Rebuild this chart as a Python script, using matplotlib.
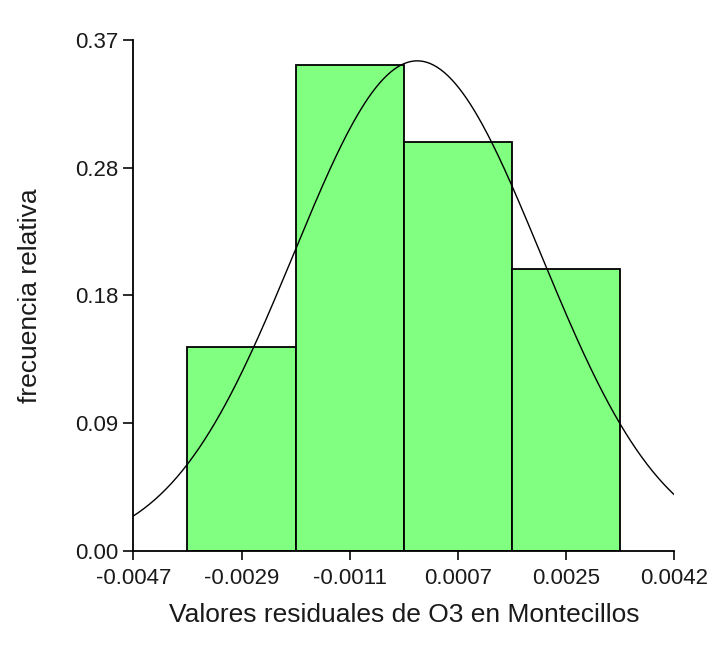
import numpy as np
import matplotlib
matplotlib.use("Agg")
import matplotlib.pyplot as plt

plt.rcParams['font.family'] = ['Liberation Sans', 'DejaVu Sans']

# bin centres (rounded tick labels) and relative frequencies
x_start = -0.00467
bin_width = 0.00178
x_ticklabels = ['-0.0047', '-0.0029', '-0.0011', '0.0007', '0.0025', '0.0042']
rel_freq = [0.148, 0.352, 0.296, 0.204]
y_max = 0.37
y_ticklabels = ['0.00', '0.09', '0.18', '0.28', '0.37']

# fitted normal curve
mu = 0.0
sigma = 0.00203
curve_peak = 0.355

x_ticks = x_start + bin_width * np.arange(len(x_ticklabels))
centers = x_ticks[1:1 + len(rel_freq)]

fig = plt.figure(figsize=(7.11, 6.58), dpi=100)
ax = fig.add_axes([0.1875, 0.163, 0.761, 0.776])

ax.bar(centers, rel_freq, width=bin_width, color='#80ff80',
       edgecolor='black', linewidth=1.3)

xs = np.linspace(x_ticks[0], x_ticks[-1], 300)
curve = curve_peak * np.exp(-(xs - mu) ** 2 / (2 * sigma ** 2))
ax.plot(xs, curve, color='black', linewidth=1.0)

ax.set_xlim(x_ticks[0], x_ticks[-1])
ax.set_ylim(0, y_max)
ax.set_xticks(x_ticks)
ax.set_xticklabels(x_ticklabels)
ax.set_yticks(np.linspace(0, y_max, len(y_ticklabels)))
ax.set_yticklabels(y_ticklabels)

for s in ['top', 'right']:
    ax.spines[s].set_visible(False)
for s in ['left', 'bottom']:
    ax.spines[s].set_linewidth(1.3)
ax.tick_params(axis='x', direction='out', length=6.5, width=1.3, labelsize=16, pad=5.8, colors='#1a1a1a')
ax.tick_params(axis='y', direction='out', length=7.2, width=1.3, labelsize=16, pad=3.6, colors='#1a1a1a')

ax.set_xlabel('Valores residuales de O3 en Montecillos', fontsize=19, color='#1a1a1a', labelpad=10.5)
ax.set_ylabel('frecuencia relativa', fontsize=19, color='#1a1a1a')
ax.yaxis.set_label_coords(-0.168, 0.5)

fig.savefig('out.png', dpi=100)
